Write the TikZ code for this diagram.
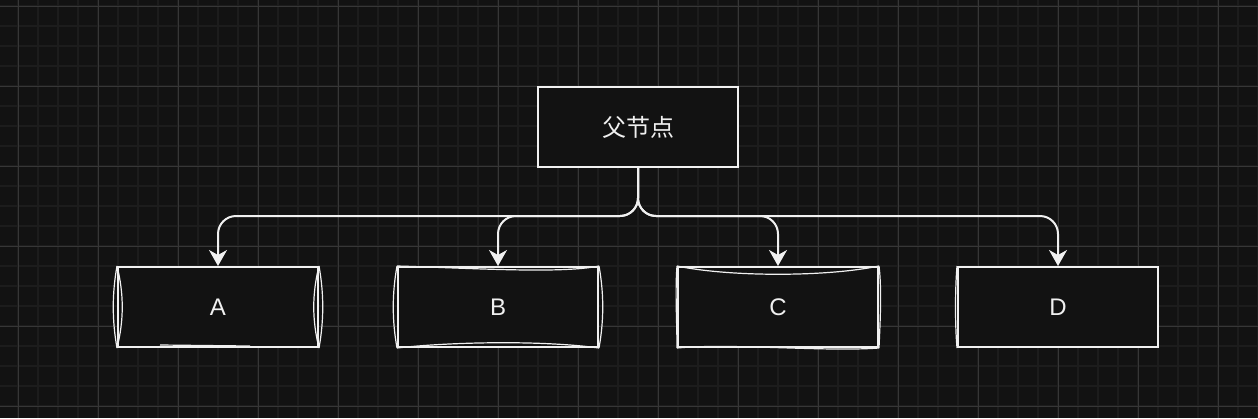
\documentclass[tikz,border=0pt]{standalone}
\usepackage{fontspec}
\setmainfont{Liberation Sans}
\newfontfamily\cjk{Noto Sans CJK SC}
\usetikzlibrary{arrows.meta}

\definecolor{bgdark}{HTML}{121212}
\definecolor{gridminor}{HTML}{1C1C1C}
\definecolor{gridmajor}{HTML}{363636}
\definecolor{ink}{HTML}{F0F0F0}

\tikzset{
	box/.style={draw=ink, line width=1pt, fill=bgdark, text=ink,
		minimum width=100pt, minimum height=40pt, inner sep=0pt,
		font=\fontsize{12}{14}\selectfont},
	sketch/.style={draw=ink, line width=0.6pt},
	conn/.style={draw=ink, line width=1pt, rounded corners=9pt,
		-{Stealth[length=8pt, width=9pt, inset=2.5pt]}},
}

\begin{document}
\begin{tikzpicture}[x=0.5pt, y=-0.5pt]
	
	% Hintergrund mit Raster
	\fill[bgdark] (0,0) rectangle (1258,418);
	\useasboundingbox (0,0) rectangle (1258,418);
	\foreach \x in {18,38,...,1258} \draw[gridminor, line width=0.8pt] (\x,0) -- (\x,418);
	\foreach \y in {6,26,...,418} \draw[gridminor, line width=0.8pt] (0,\y) -- (1258,\y);
	\foreach \x in {18,98,...,1258} \draw[gridmajor, line width=0.5pt] (\x,0) -- (\x,418);
	\foreach \y in {6,86,...,418} \draw[gridmajor, line width=0.5pt] (0,\y) -- (1258,\y);
	
	% Elternknoten
	\node[box] (parent) at (638,127) {\cjk 父节点};
	
	% Kindknoten
	\node[box] (a) at (218,307) {A};
	\node[box] (b) at (498,307) {B};
	\node[box] (c) at (778,307) {C};
	\node[box] (d) at (1058,307) {D};
	
	% Skizzen-Striche (handgezeichneter Look)
	% A: gewölbte Seiten
	\draw[sketch] (a.north west) .. controls (112,294) and (112,320) .. (a.south west);
	\draw[sketch] (a.north west) .. controls (124,294) and (124,320) .. (a.south west);
	\draw[sketch] (a.north east) .. controls (312,294) and (312,320) .. (a.south east);
	\draw[sketch] (a.north east) .. controls (324,294) and (324,320) .. (a.south east);
	\draw[sketch] (160,345) -- (250,346);
	% B: Seiten nach außen, oben und unten nach innen
	\draw[sketch] (b.north west) .. controls (392,294) and (392,320) .. (b.south west);
	\draw[sketch] (b.north east) .. controls (604,294) and (604,320) .. (b.south east);
	\draw[sketch] (b.north west) .. controls (470,268) and (560,274) .. (b.north east);
	\draw[sketch] (b.south west) .. controls (450,342) and (540,340) .. (b.south east);
	% C: Deckel nach innen gewölbt, Boden wellig
	\draw[sketch] (c.north west) .. controls (730,277) and (826,277) .. (c.north east);
	\draw[sketch] (c.south west) .. controls (730,343) and (826,352) .. (c.south east);
	\draw[sketch] (c.north west) .. controls (675,290) and (677,325) .. (c.south west);
	\draw[sketch] (c.north east) .. controls (882,290) and (880,325) .. (c.south east);
	% D: fast gerade
	\draw[sketch] (d.north west) .. controls (955,290) and (955,325) .. (d.south west);
	
	% Verbindungen
	\coordinate (bus) at (638,216);
	\draw[conn] (parent.south) -- (bus) -| (a.north);
	\draw[conn] (parent.south) -- (bus) -| (b.north);
	\draw[conn] (parent.south) -- (bus) -| (c.north);
	\draw[conn] (parent.south) -- (bus) -| (d.north);
	
\end{tikzpicture}
\end{document}
